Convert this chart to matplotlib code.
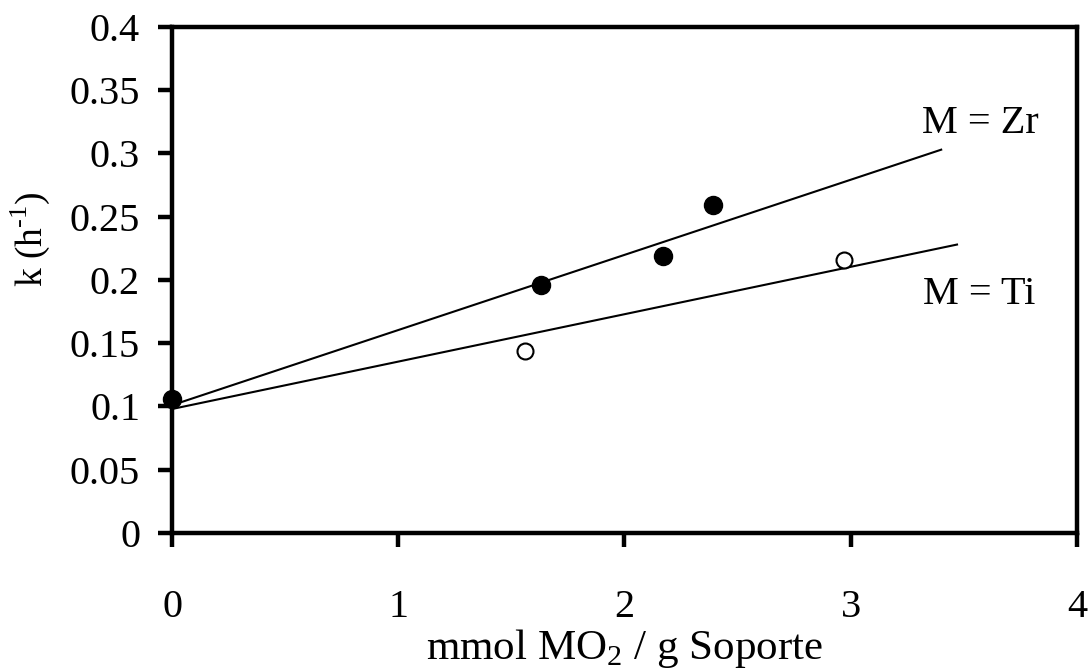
import matplotlib
matplotlib.use("Agg")
import matplotlib.pyplot as plt

# Data
zr_x = [0.0, 1.63, 2.17, 2.39]
zr_y = [0.106, 0.196, 0.219, 0.259]
ti_x = [1.56, 2.97]
ti_y = [0.144, 0.216]
zr_fit_x = [0.0, 3.40]
zr_fit_y = [0.101, 0.303]
ti_fit_x = [0.0, 3.47]
ti_fit_y = [0.098, 0.228]
x_ticks = [0, 1, 2, 3, 4]
y_ticks = [0, 0.05, 0.1, 0.15, 0.2, 0.25, 0.3, 0.35, 0.4]
y_tick_labels = ["0", "0.05", "0.1", "0.15", "0.2", "0.25", "0.3", "0.35", "0.4"]

plt.rcParams['font.family'] = ['Liberation Serif', 'DejaVu Serif']
plt.rcParams['mathtext.fontset'] = 'custom'
plt.rcParams['mathtext.rm'] = 'Liberation Serif'

fig = plt.figure(figsize=(10.9, 6.71), dpi=100)
ax = fig.add_axes([0.1578, 0.2057, 0.988 - 0.1578, 0.9598 - 0.2057])

ax.plot(zr_fit_x, zr_fit_y, color='black', lw=1.5, zorder=2)
ax.plot(ti_fit_x, ti_fit_y, color='black', lw=1.5, zorder=2)
ax.plot(zr_x, zr_y, 'o', color='black', markersize=13, zorder=3, clip_on=False)
ax.plot(ti_x, ti_y, 'o', markerfacecolor='white', markeredgecolor='black',
        markeredgewidth=1.5, markersize=11.5, zorder=3)

ax.set_xlim(0, 4)
ax.set_ylim(0, 0.4)
ax.set_xticks(x_ticks)
ax.set_xticklabels([str(v) for v in x_ticks])
ax.set_yticks(y_ticks)
ax.set_yticklabels(y_tick_labels)

for s in ax.spines.values():
    s.set_linewidth(3.2)
ax.tick_params(axis='both', direction='out', length=10, width=3.2, labelsize=29)
ax.tick_params(axis='x', pad=30)
ax.tick_params(axis='y', pad=13)

ax.set_ylabel('k (h$^{\u2010\\mathregular{1}}$)', fontsize=27)
ax.yaxis.set_label_coords(-0.1326, 0.581)
ax.set_xlabel(r'mmol MO$_{\mathregular{2}}$ / g Soporte', fontsize=31, va='baseline')
ax.xaxis.set_label_coords(0.5, -0.25)

ax.text(3.314, 0.316, 'M = Zr', fontsize=29, ha='left', va='baseline')
ax.text(3.319, 0.181, 'M = Ti', fontsize=29, ha='left', va='baseline')

fig.savefig('out.png', dpi=100)
